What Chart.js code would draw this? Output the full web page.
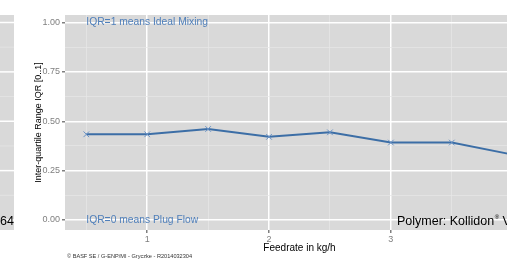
<!DOCTYPE html>
<html>
<head>
<meta charset="utf-8">
<script src="https://cdn.jsdelivr.net/npm/chart.js@4"></script>
<style>
  html, body { margin: 0; padding: 0; background: #fff; overflow: hidden; }
  #wrap { position: relative; width: 540px; height: 264px; }
</style>
</head>
<body>
<div id="wrap"><canvas id="chart"></canvas></div>
<script>
// Feedrate (kg/h) und IQR-Werte
const feedrate = [0.5, 1, 1.5, 2, 2.5, 3, 3.5, 4];
const iqr      = [0.434, 0.434, 0.461, 0.421, 0.444, 0.392, 0.392, 0.331];

// Achsenraster: Haupt- und Nebenlinien
const xMajor = [1, 2, 3];
const xMinor = [0.5, 1.5, 2.5, 3.5];
const yMajor = [0, 0.25, 0.5, 0.75, 1];
const yMinor = [0.125, 0.375, 0.625, 0.875];

// Texte
const xTitle = 'Feedrate in kg/h';
const yTitle = 'Inter-quartile Range IQR [0..1]';
const noteTop = 'IQR=1 means Ideal Mixing';
const noteBottom = 'IQR=0 means Plug Flow';
const polymerText = ['Polymer: Kollidon', '\u00AE', ' VA64'];
const prevFacetText = '64';
const copyright = '\u00A9 BASF SE / G-ENP/MI - Gryczke - R2014032304';

const PANEL = '#d9d9d9';
const MINOR = '#e6e6e6';
const TICK = '#7f7f7f';
const FONT = "'Liberation Sans', Arial, sans-serif";

function isMajor(list, v) {
    return list.some(m => Math.abs(m - v) < 1e-9);
}

// Grauer Panel-Hintergrund + Rest der linken Facette
const panelPlugin = {
    id: 'panel',
    beforeDraw(chart) {
        const { ctx, chartArea: a, scales: { y } } = chart;
        ctx.save();
        ctx.fillStyle = PANEL;
        ctx.fillRect(a.left, a.top, a.right - a.left, a.bottom - a.top);
        // abgeschnittene Nachbar-Facette links
        ctx.fillRect(0, a.top, 14, a.bottom - a.top);
        yMinor.forEach(v => {
            const py = y.getPixelForValue(v);
            ctx.strokeStyle = MINOR; ctx.lineWidth = 0.7;
            ctx.beginPath(); ctx.moveTo(0, py); ctx.lineTo(14, py); ctx.stroke();
        });
        yMajor.forEach(v => {
            const py = y.getPixelForValue(v);
            ctx.strokeStyle = '#ffffff'; ctx.lineWidth = 1.5;
            ctx.beginPath(); ctx.moveTo(0, py); ctx.lineTo(14, py); ctx.stroke();
        });
        ctx.restore();
    }
};

// Beschriftungen im Diagramm
const notesPlugin = {
    id: 'notes',
    afterDraw(chart) {
        const { ctx, scales: { x, y } } = chart;
        ctx.save();
        ctx.textBaseline = 'middle';
        ctx.textAlign = 'left';
        ctx.fillStyle = '#4f7fba';
        ctx.font = '10.3px ' + FONT;
        ctx.fillText(noteTop, x.getPixelForValue(0.5), y.getPixelForValue(1));
        ctx.fillText(noteBottom, x.getPixelForValue(0.5), y.getPixelForValue(0));

        // Polymer-Text mit hochgestelltem ®
        ctx.fillStyle = '#000';
        let px = x.getPixelForValue(3.05);
        const py = y.getPixelForValue(-0.006);
        ctx.font = '12.5px ' + FONT;
        ctx.fillText(polymerText[0], px, py);
        px += ctx.measureText(polymerText[0]).width + 0.5;
        ctx.font = '6px ' + FONT;
        ctx.fillText(polymerText[1], px, py - 4);
        px += ctx.measureText(polymerText[1]).width;
        ctx.font = '12.5px ' + FONT;
        ctx.fillText(polymerText[2], px, py);

        // Rest aus der linken Facette
        ctx.textAlign = 'right';
        ctx.fillText(prevFacetText, 14, py);

        // Copyright unten
        ctx.textAlign = 'left';
        ctx.fillStyle = '#333';
        ctx.font = '5.6px ' + FONT;
        ctx.fillText(copyright, 67, 256.5);
        ctx.restore();
    }
};

new Chart(document.getElementById('chart'), {
    type: 'line',
    data: {
        datasets: [{
            data: feedrate.map((f, i) => ({ x: f, y: iqr[i] })),
            borderColor: '#3c6ea6',
            borderWidth: 2,
            pointStyle: 'crossRot',
            pointRadius: 4,
            pointBorderWidth: 1,
            pointBorderColor: '#6a93c6',
            pointBackgroundColor: '#6a93c6',
            tension: 0
        }]
    },
    options: {
        responsive: true,
        maintainAspectRatio: false,
        animation: false,
        devicePixelRatio: 1,
        layout: { padding: { top: 15, right: 6, left: 0, bottom: 0 } },
        plugins: { legend: { display: false }, tooltip: { enabled: false } },
        scales: {
            x: {
                type: 'linear',
                min: 0.325,
                max: 4.175,
                afterBuildTicks: s => {
                    s.ticks = [...xMinor, ...xMajor].sort((a, b) => a - b).map(v => ({ value: v }));
                },
                afterFit: s => { s.height = 34; },
                border: { display: false },
                grid: {
                    color: c => isMajor(xMajor, c.tick.value) ? '#ffffff' : MINOR,
                    lineWidth: c => isMajor(xMajor, c.tick.value) ? 1.5 : 0.7,
                    tickColor: c => isMajor(xMajor, c.tick.value) ? TICK : 'rgba(0,0,0,0)',
                    tickLength: 3
                },
                ticks: {
                    autoSkip: false,
                    maxRotation: 0,
                    padding: 1,
                    color: TICK,
                    font: { family: FONT, size: 9 },
                    callback: v => isMajor(xMajor, v) ? String(v) : ''
                },
                title: {
                    display: true,
                    text: xTitle,
                    color: '#000',
                    font: { family: FONT, size: 10 },
                    padding: { top: 0, bottom: 10 }
                }
            },
            y: {
                min: -0.0506,
                max: 1.038,
                afterBuildTicks: s => {
                    s.ticks = [...yMajor, ...yMinor].sort((a, b) => a - b).map(v => ({ value: v }));
                },
                afterFit: s => { s.width = 65; },
                border: { display: false },
                grid: {
                    color: c => isMajor(yMajor, c.tick.value) ? '#ffffff' : MINOR,
                    lineWidth: c => isMajor(yMajor, c.tick.value) ? 1.5 : 0.7,
                    tickColor: c => isMajor(yMajor, c.tick.value) ? TICK : 'rgba(0,0,0,0)',
                    tickLength: 3
                },
                ticks: {
                    autoSkip: false,
                    padding: 2,
                    color: TICK,
                    font: { family: FONT, size: 9 },
                    callback: v => isMajor(yMajor, v) ? v.toFixed(2) : ''
                },
                title: {
                    display: true,
                    text: yTitle,
                    color: '#000',
                    font: { family: FONT, size: 9 },
                    padding: { top: 33, bottom: 0 }
                }
            }
        }
    },
    plugins: [panelPlugin, notesPlugin]
});
</script>
</body>
</html>
